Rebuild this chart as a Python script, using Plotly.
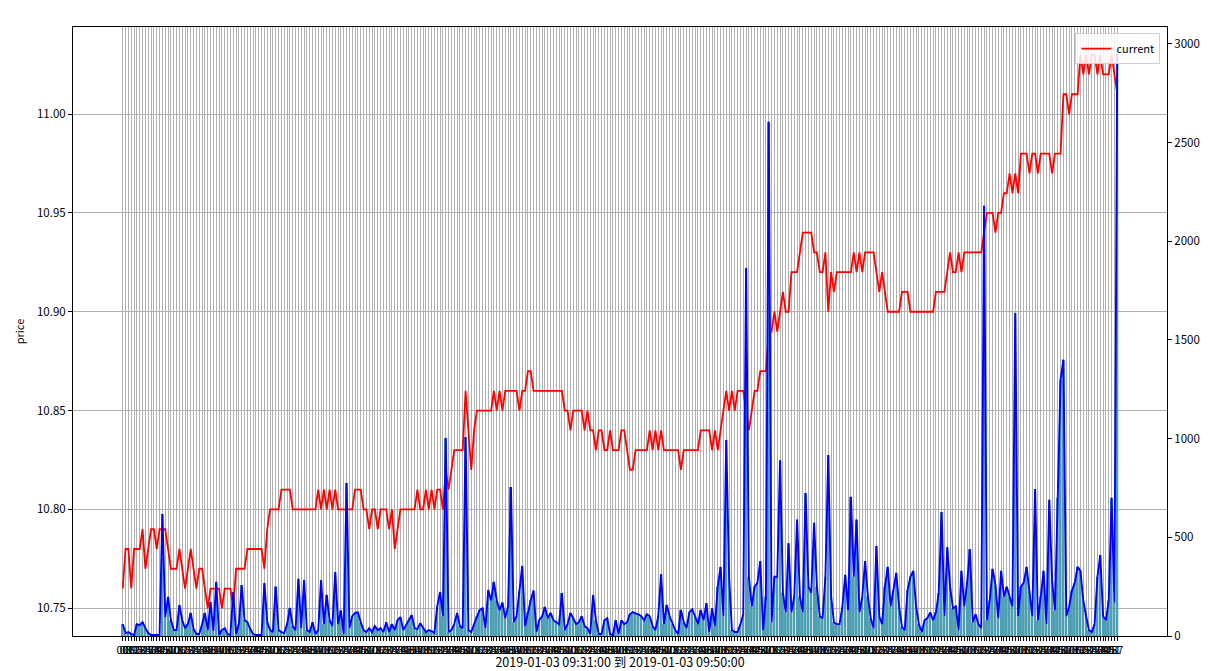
import plotly.graph_objects as go

# ---- data ----
PRICE = [
    10.76, 10.78, 10.78, 10.76, 10.78, 10.78, 10.78, 10.79, 10.77, 10.78,
    10.79, 10.79, 10.78, 10.79, 10.79, 10.79, 10.78, 10.77, 10.77, 10.77,
    10.78, 10.77, 10.76, 10.77, 10.78, 10.77, 10.76, 10.77, 10.77, 10.76,
    10.75, 10.76, 10.76, 10.76, 10.76, 10.75, 10.76, 10.76, 10.76, 10.75,
    10.77, 10.77, 10.77, 10.77, 10.78, 10.78, 10.78, 10.78, 10.78, 10.78,
    10.77, 10.79, 10.80, 10.80, 10.80, 10.80, 10.81, 10.81, 10.81, 10.81,
    10.80, 10.80, 10.80, 10.80, 10.80, 10.80, 10.80, 10.80, 10.80, 10.81,
    10.80, 10.81, 10.80, 10.81, 10.80, 10.81, 10.80, 10.80, 10.80, 10.80,
    10.80, 10.80, 10.81, 10.81, 10.81, 10.80, 10.80, 10.79, 10.80, 10.80,
    10.79, 10.80, 10.80, 10.80, 10.79, 10.80, 10.78, 10.79, 10.80, 10.80,
    10.80, 10.80, 10.80, 10.80, 10.81, 10.80, 10.80, 10.81, 10.80, 10.81,
    10.80, 10.81, 10.81, 10.80, 10.82, 10.81, 10.82, 10.83, 10.83, 10.83,
    10.83, 10.86, 10.84, 10.82, 10.84, 10.85, 10.85, 10.85, 10.85, 10.85,
    10.85, 10.86, 10.85, 10.86, 10.85, 10.86, 10.86, 10.86, 10.86, 10.86,
    10.85, 10.86, 10.86, 10.87, 10.87, 10.86, 10.86, 10.86, 10.86, 10.86,
    10.86, 10.86, 10.86, 10.86, 10.86, 10.86, 10.85, 10.85, 10.84, 10.85,
    10.85, 10.85, 10.85, 10.84, 10.85, 10.84, 10.84, 10.83, 10.84, 10.84,
    10.83, 10.83, 10.84, 10.83, 10.83, 10.83, 10.84, 10.84, 10.83, 10.82,
    10.82, 10.83, 10.83, 10.83, 10.83, 10.83, 10.84, 10.83, 10.84, 10.83,
    10.84, 10.83, 10.83, 10.83, 10.83, 10.83, 10.83, 10.82, 10.83, 10.83,
    10.83, 10.83, 10.83, 10.83, 10.84, 10.84, 10.84, 10.84, 10.83, 10.84,
    10.83, 10.84, 10.85, 10.86, 10.85, 10.86, 10.85, 10.86, 10.86, 10.86,
    10.85, 10.84, 10.85, 10.86, 10.86, 10.87, 10.87, 10.87, 10.89, 10.89,
    10.90, 10.89, 10.90, 10.91, 10.90, 10.90, 10.92, 10.92, 10.92, 10.93,
    10.94, 10.94, 10.94, 10.94, 10.93, 10.93, 10.92, 10.92, 10.93, 10.90,
    10.92, 10.91, 10.92, 10.92, 10.92, 10.92, 10.92, 10.92, 10.93, 10.92,
    10.93, 10.92, 10.93, 10.93, 10.93, 10.93, 10.92, 10.91, 10.92, 10.91,
    10.90, 10.90, 10.90, 10.90, 10.90, 10.91, 10.91, 10.91, 10.90, 10.90,
    10.90, 10.90, 10.90, 10.90, 10.90, 10.90, 10.90, 10.91, 10.91, 10.91,
    10.91, 10.92, 10.93, 10.92, 10.92, 10.93, 10.92, 10.93, 10.93, 10.93,
    10.93, 10.93, 10.93, 10.93, 10.94, 10.95, 10.95, 10.95, 10.94, 10.95,
    10.95, 10.96, 10.96, 10.97, 10.96, 10.97, 10.96, 10.98, 10.98, 10.98,
    10.97, 10.98, 10.98, 10.97, 10.98, 10.98, 10.98, 10.98, 10.97, 10.98,
    10.98, 10.98, 11.01, 11.01, 11.00, 11.01, 11.01, 11.01, 11.03, 11.02,
    11.03, 11.02, 11.03, 11.03, 11.02, 11.03, 11.02, 11.02, 11.02, 11.03,
    11.02, 11.01,
]

VOLUME = [
    60, 15, 20, 10, 5, 60, 55, 70, 40, 15,
    5, 5, 3, 5, 618, 96, 198, 81, 30, 30,
    157, 80, 40, 60, 117, 35, 10, 10, 60, 117,
    30, 172, 25, 274, 5, 30, 40, 10, 5, 223,
    10, 60, 258, 80, 70, 35, 10, 5, 5, 3,
    268, 70, 30, 20, 250, 30, 20, 15, 60, 142,
    50, 30, 290, 40, 284, 30, 20, 70, 10, 30,
    284, 60, 208, 80, 50, 324, 60, 130, 10, 775,
    40, 100, 117, 120, 70, 30, 20, 40, 20, 50,
    30, 40, 20, 70, 20, 60, 30, 80, 96, 30,
    55, 80, 106, 40, 35, 65, 40, 20, 30, 25,
    15, 150, 223, 100, 1003, 20, 30, 60, 117, 50,
    40, 1008, 30, 20, 60, 100, 132, 140, 40, 233,
    180, 274, 180, 130, 170, 90, 150, 755, 70, 100,
    230, 355, 50, 120, 182, 230, 20, 80, 100, 147,
    90, 117, 80, 70, 60, 218, 30, 60, 117, 90,
    60, 70, 100, 50, 40, 10, 208, 80, 10, 10,
    80, 90, 10, 5, 80, 10, 80, 60, 70, 110,
    121, 115, 110, 100, 80, 110, 100, 50, 30, 100,
    314, 60, 157, 100, 60, 30, 10, 132, 70, 40,
    120, 135, 100, 60, 132, 80, 167, 20, 140, 50,
    250, 350, 100, 993, 300, 30, 20, 20, 60, 110,
    1865, 300, 150, 250, 270, 380, 30, 200, 2605, 70,
    300, 300, 890, 220, 120, 470, 120, 200, 590, 200,
    121, 725, 250, 218, 573, 250, 100, 90, 300, 917,
    200, 70, 60, 60, 150, 310, 130, 705, 300, 590,
    120, 198, 380, 200, 90, 40, 456, 100, 60, 250,
    350, 150, 233, 320, 150, 46, 30, 233, 300, 330,
    150, 60, 20, 80, 91, 120, 80, 120, 218, 628,
    100, 450, 250, 140, 150, 30, 330, 150, 270, 440,
    70, 110, 60, 40, 2180, 80, 180, 340, 260, 90,
    330, 200, 250, 200, 150, 1637, 100, 250, 270, 350,
    230, 100, 745, 80, 200, 330, 60, 690, 280, 130,
    700, 1300, 1400, 100, 147, 230, 270, 350, 330, 180,
    100, 30, 20, 60, 300, 410, 100, 80, 180, 700,
    170, 2950,
]

# x tick labels: seconds of each tick (09:31 .. 09:50)
SECONDS = """
00 03 06 09 12 15 18 21 24 27 30 33 39 42 45 48 51 57
00 03 06 12 15 18 21 24 27 33 36 39 42 48 51 54 57
00 03 06 09 12 15 18 21 24 27 30 33 39 42 45 48 51 57
00 03 06 12 15 18 21 24 27 33 36 39 42 48 51 54 57
00 03 06 09 12 15 18 21 24 27 30 33 39 42 45 48 51 57
00 03 06 12 15 18 21 24 27 33 36 39 42 48 51 54 57
00 03 06 09 12 15 18 21 24 27 30 33 39 42 45 48 51 57
00 03 06 12 15 18 21 24 27 33 36 39 42 48 51 54 57
00 03 06 09 12 15 18 21 24 27 30 33 39 42 45 48 51 57
00 03 06 12 15 18 21 24 27 33 36 39 42 48 51 54 57
00 03 06 09 12 15 18 21 24 27 30 33 39 42 45 48 51 57
00 03 06 12 15 18 21 24 27 33 36 39 42 48 51 54 57
00 03 06 09 12 15 18 21 24 27 30 33 39 42 45 48 51 57
00 03 06 12 15 18 21 24 27 33 36 39 42 48 51 54 57
00 03 06 09 12 15 18 21 24 27 30 33 39 42 45 48 51 57
00 03 06 12 15 18 21 24 27 33 36 39 42 48 51 54 57
00 03 06 09 12 15 18 21 24 27 30 33 39 42 45 48 51 57
00 03 06 09 12 15 18 21 24 27 30 33 39 42 45 48 51 57
00 03 06 09 12 15 18 21 24 27 30 33 39 42 45 48 51 57
00 03 06 09 12 15 18 21 24 27 30 33 39 42 45 48 51 57
""".split()

PRICE_TICKS = [10.75, 10.80, 10.85, 10.90, 10.95, 11.00]
PRICE_TICK_TEXT = ["10.75", "10.80", "10.85", "10.90", "10.95", "11.00"]
VOLUME_TICKS = [0, 500, 1000, 1500, 2000, 2500, 3000]
X_TITLE = "2019-01-03 09:31:00 到 2019-01-03 09:50:00"

n = len(PRICE)
idx = list(range(n))
labels = SECONDS[:n]

FONT = "Noto Sans CJK SC, DejaVu Sans, sans-serif"

fig = go.Figure()
fig.add_trace(go.Bar(
    x=idx, y=VOLUME, yaxis="y2", width=0.7,
    marker=dict(color="#4f9fb2", line=dict(width=0)),
    showlegend=False, hoverinfo="skip",
))
fig.add_trace(go.Scatter(
    x=idx, y=VOLUME, yaxis="y2", mode="lines",
    line=dict(color="#0000ff", width=1.9), showlegend=False, name="volume",
))
fig.add_trace(go.Scatter(
    x=idx, y=PRICE, mode="lines", name="current",
    line=dict(color="#ff0000", width=1.8),
))

pad = 0.05 * (n - 1)
pmin, pmax = min(PRICE), max(PRICE)
ppad = 0.05 * (pmax - pmin)
vmax = max(VOLUME) * 1.046

# the page body adds an 8px offset, so the figure is sized/margined to compensate
fig.update_layout(
    width=1204, height=663,
    margin=dict(l=65, r=45, t=19, b=35),
    paper_bgcolor="white", plot_bgcolor="white",
    font=dict(family=FONT, size=11, color="black"),
    showlegend=True,
    legend=dict(
        x=0.994, y=0.99, xanchor="right", yanchor="top",
        bgcolor="rgba(255,255,255,0.85)", bordercolor="#d0d0d0", borderwidth=1,
        font=dict(size=11),
    ),
    xaxis=dict(
        range=[-pad, n - 1 + pad],
        tickmode="array", tickvals=idx, ticktext=labels, tickangle=0,
        tickfont=dict(size=11),
        showgrid=True, gridcolor="#b0b0b0", gridwidth=1,
        showline=True, linecolor="black", linewidth=1, mirror=True,
        ticks="outside", ticklen=4, tickcolor="black",
        zeroline=False, automargin=False,
        title=dict(text=X_TITLE, font=dict(size=12.5), standoff=3),
    ),
    yaxis=dict(
        range=[pmin - ppad, pmax + ppad],
        tickmode="array", tickvals=PRICE_TICKS, ticktext=PRICE_TICK_TEXT,
        tickfont=dict(size=11.5),
        showgrid=True, gridcolor="#b0b0b0", gridwidth=1,
        showline=True, linecolor="black", linewidth=1, mirror=True,
        ticks="outside", ticklen=4, tickcolor="black",
        zeroline=False, automargin=False,
        title=dict(text="price", font=dict(size=11), standoff=10),
    ),
    yaxis2=dict(
        overlaying="y", side="right",
        range=[0, vmax],
        tickmode="array", tickvals=VOLUME_TICKS,
        tickfont=dict(size=11.5),
        showgrid=False, zeroline=False,
        showline=True, linecolor="black", linewidth=1,
        ticks="outside", ticklen=4, tickcolor="black",
        automargin=False,
    ),
    bargap=0.3,
)

fig.write_html("out.html")
